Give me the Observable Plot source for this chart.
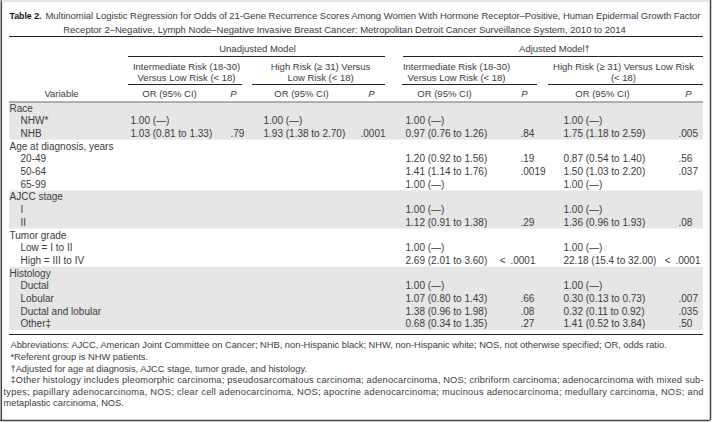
<!DOCTYPE html>
<html>
<head>
<meta charset="utf-8">
<script src="https://cdn.jsdelivr.net/npm/d3@7"></script>
<script src="https://cdn.jsdelivr.net/npm/@observablehq/plot@0.6"></script>
<style>
  html, body { margin: 0; padding: 0; background: #fff; }
  svg { display: block; }
</style>
</head>
<body>
<div id="chart"></div>
<script>
// ---------------- DATA ----------------
const tableLabel = "Table 2.";
const titleLines = [
  "Multinomial Logistic Regression for Odds of 21-Gene Recurrence Scores Among Women With Hormone Receptor–Positive, Human Epidermal Growth Factor",
  "Receptor 2–Negative, Lymph Node–Negative Invasive Breast Cancer: Metropolitan Detroit Cancer Surveillance System, 2010 to 2014"
];
const models = ["Unadjusted Model", "Adjusted Model†"];
const comparisons = [
  ["Intermediate Risk (18-30)", "Versus Low Risk (< 18)"],
  ["High Risk (≥ 31) Versus", "Low Risk (< 18)"],
  ["Intermediate Risk (18-30)", "Versus Low Risk (< 18)"],
  ["High Risk (≥ 31) Versus Low Risk", "(< 18)"]
];
const varHeader = "Variable";
const orHeader = "OR (95% CI)";
const pHeader = "P";

const rowLabels = ["Race", "NHW*", "NHB", "Age at diagnosis, years", "20-49", "50-64", "65-99",
  "AJCC stage", "I", "II", "Tumor grade", "Low = I to II", "High = III to IV",
  "Histology", "Ductal", "Lobular", "Ductal and lobular", "Other‡"];
const rowIsGroup = [1,0,0,1,0,0,0,1,0,0,1,0,0,1,0,0,0,0];
const rowGroupIndex = [0,0,0,1,1,1,1,2,2,2,3,3,3,4,4,4,4,4];

const unadjIntOR = ["", "1.00 (—)", "1.03 (0.81 to 1.33)", "", "", "", "", "", "", "", "", "", "", "", "", "", "", ""];
const unadjIntP  = ["", "", ".79", "", "", "", "", "", "", "", "", "", "", "", "", "", "", ""];
const unadjHighOR = ["", "1.00 (—)", "1.93 (1.38 to 2.70)", "", "", "", "", "", "", "", "", "", "", "", "", "", "", ""];
const unadjHighP  = ["", "", ".0001", "", "", "", "", "", "", "", "", "", "", "", "", "", "", ""];
const adjIntOR = ["", "1.00 (—)", "0.97 (0.76 to 1.26)", "", "1.20 (0.92 to 1.56)", "1.41 (1.14 to 1.76)", "1.00 (—)",
  "", "1.00 (—)", "1.12 (0.91 to 1.38)", "", "1.00 (—)", "2.69 (2.01 to 3.60)",
  "", "1.00 (—)", "1.07 (0.80 to 1.43)", "1.38 (0.96 to 1.98)", "0.68 (0.34 to 1.35)"];
const adjIntP = ["", "", ".84", "", ".19", ".0019", "", "", "", ".29", "", "", "< .0001", "", "", ".66", ".08", ".27"];
const adjHighOR = ["", "1.00 (—)", "1.75 (1.18 to 2.59)", "", "0.87 (0.54 to 1.40)", "1.50 (1.03 to 2.20)", "1.00 (—)",
  "", "1.00 (—)", "1.36 (0.96 to 1.93)", "", "1.00 (—)", "22.18 (15.4 to 32.00)",
  "", "1.00 (—)", "0.30 (0.13 to 0.73)", "0.32 (0.11 to 0.92)", "1.41 (0.52 to 3.84)"];
const adjHighP = ["", "", ".005", "", ".56", ".037", "", "", "", ".08", "", "", "< .0001", "", "", ".007", ".035", ".50"];

const footnotes = [
  "Abbreviations: AJCC, American Joint Committee on Cancer; NHB, non-Hispanic black; NHW, non-Hispanic white; NOS, not otherwise specified; OR, odds ratio.",
  "*Referent group is NHW patients.",
  "†Adjusted for age at diagnosis, AJCC stage, tumor grade, and histology.",
  "‡Other histology includes pleomorphic carcinoma; pseudosarcomatous carcinoma; adenocarcinoma, NOS; cribriform carcinoma; adenocarcinoma with mixed sub-",
  "types; papillary adenocarcinoma, NOS; clear cell adenocarcinoma, NOS; apocrine adenocarcinoma; mucinous adenocarcinoma; medullary carcinoma, NOS; and",
  "metaplastic carcinoma, NOS."
];
const footnoteFirstLine = [1, 1, 1, 1, 0, 0];
const footnoteJustify = [0, 0, 0, 1, 1, 0];

// ---------------- LAYOUT ----------------
const W = 712, H = 422;
const L = {
  left: 9, right: 703,
  titleY: [15, 29], titleLabelX: 9, titleLabelW: 32, title1X: 45, title1End: 700, title2Center: 344,
  titleRuleY: 36,
  modelY: 48, modelCenter: [257, 554], modelRule: [[128, 385], [403, 703]], modelRuleY: 56,
  cmpY: [66, 77], cmpCenter: [186, 320, 456, 623],
  cmpRule: [[128, 242], [252, 385], [402, 537], [548, 703]], cmpRuleY: 84,
  hdrY: 93, varCenter: 61, hdrOR: [169, 301, 444, 602], hdrP: [233, 371, 524, 688],
  bodyTop: 101.5, rowH: 12.7,
  groupX: 9, itemX: 20,
  colOR: [130, 263, 405, 563], colP: [230, 360, 520, 678], ltEnd: [245, 383, 535, 700],
  bottomRuleY: 334,
  footY0: 345, footStep: 11.6, footX1: 10, footX2: 3
};
const bandFill = "#e6e6e6";
const ink = "#3c3c3c";
const ruleInk = "#222";
const font = "'Liberation Sans', Arial, sans-serif";
const fsBody = 10, fsHead = 9.5, fsTitle = 9.5, fsFoot = 9.3;

// ---------------- BUILD ----------------
const rowY = i => L.bodyTop + L.rowH * (i + 0.5);

const bands = [];
rowGroupIndex.forEach((g, i) => {
  if (g % 2 === 0) {
    const last = bands[bands.length - 1];
    if (last && last.g === g) last.y2 = L.bodyTop + L.rowH * (i + 1);
    else bands.push({g, y1: L.bodyTop + L.rowH * i, y2: L.bodyTop + L.rowH * (i + 1)});
  }
});

const labelCells = rowLabels.map((t, i) => ({t, x: rowIsGroup[i] ? L.groupX : L.itemX, y: rowY(i)}));
const orCols = [unadjIntOR, unadjHighOR, adjIntOR, adjHighOR];
const pCols = [unadjIntP, unadjHighP, adjIntP, adjHighP];
const orCells = [], pCellsStart = [], pCellsEnd = [];
orCols.forEach((col, c) => col.forEach((t, i) => { if (t) orCells.push({t, x: L.colOR[c], y: rowY(i)}); }));
pCols.forEach((col, c) => col.forEach((t, i) => {
  if (!t) return;
  // "< .0001" is set with a wider gap after the sign, right-aligned
  if (t.startsWith("<")) pCellsEnd.push({t: t.replace(" ", "\u2002"), x: L.ltEnd[c], y: rowY(i)});
  else pCellsStart.push({t, x: L.colP[c], y: rowY(i)});
}));

const hRules = [
  {x1: L.left, x2: L.right, y: L.titleRuleY, w: 1.2},
  ...L.modelRule.map(([a, b]) => ({x1: a, x2: b, y: L.modelRuleY, w: 1})),
  ...L.cmpRule.map(([a, b]) => ({x1: a, x2: b, y: L.cmpRuleY, w: 1})),
  {x1: L.left, x2: L.right, y: L.bodyTop, w: 0.6},
  {x1: L.left, x2: L.right, y: L.bottomRuleY, w: 1}
];

const modelText = models.map((t, i) => ({t, x: L.modelCenter[i], y: L.modelY}));
const cmpText = comparisons.flatMap((pair, c) => pair.map((t, k) => ({t, x: L.cmpCenter[c], y: L.cmpY[k]})));
const orHdr = L.hdrOR.map(x => ({t: orHeader, x, y: L.hdrY}));
const pHdr = L.hdrP.map(x => ({t: pHeader, x, y: L.hdrY}));
const footText = footnotes.map((t, i) => ({t, x: footnoteFirstLine[i] ? L.footX1 : L.footX2, y: L.footY0 + i * L.footStep, j: footnoteJustify[i]}));

const txt = (data, opts) => Plot.text(data, {x: "x", y: "y", text: "t", fill: ink, fontSize: fsBody, textAnchor: "start", ...opts});

const chart = Plot.plot({
  width: W, height: H, margin: 0,
  style: {fontFamily: font, background: "#fff"},
  x: {domain: [0, W], range: [0, W], axis: null},
  y: {domain: [0, H], range: [0, H], axis: null},
  marks: [
    Plot.rect(bands, {x1: L.left, x2: L.right, y1: "y1", y2: "y2", fill: bandFill}),
    Plot.ruleY(hRules, {y: "y", x1: "x1", x2: "x2", stroke: ruleInk, strokeWidth: "w"}),
    // outer frame
    Plot.ruleX([0.8, W - 2], {y1: 0, y2: H - 2, stroke: "#444", strokeWidth: 1.5}),
    Plot.ruleY([H - 2], {x1: 0, x2: W - 2, stroke: "#444", strokeWidth: 1.5}),
    Plot.ruleY([0.5], {x1: 0, x2: W - 2, stroke: "#ccc", strokeWidth: 1}),
    // title
    txt([{t: tableLabel, x: L.titleLabelX, y: L.titleY[0]}], {fontWeight: "bold", fill: "#111", fontSize: fsTitle}),
    txt([{t: titleLines[0], x: L.title1X, y: L.titleY[0]}], {fontSize: fsTitle}),
    txt([{t: titleLines[1], x: L.title2Center, y: L.titleY[1]}], {fontSize: fsTitle, textAnchor: "middle"}),
    // headers
    txt(modelText, {textAnchor: "middle", fontSize: fsHead}),
    txt(cmpText, {textAnchor: "middle", fontSize: fsHead}),
    txt([{t: varHeader, x: L.varCenter, y: L.hdrY}], {textAnchor: "middle", fontSize: fsHead}),
    txt(orHdr, {textAnchor: "middle", fontSize: fsHead}),
    txt(pHdr, {textAnchor: "middle", fontStyle: "italic", fontSize: fsHead}),
    // body
    txt(labelCells, {}),
    txt(orCells, {}),
    txt(pCellsStart, {}),
    txt(pCellsEnd, {textAnchor: "end"}),
    // footnotes
    txt(footText, {fontSize: fsFoot})
  ]
});

// fit title/label and justify wrapped footnote lines
const fit = new Map(footText.filter(d => d.j).map(d => [d.t, L.right - d.x]));
fit.set(titleLines[0], L.title1End - L.title1X);
fit.set(tableLabel, L.titleLabelW);
chart.querySelectorAll("text").forEach(el => {
  const len = fit.get(el.textContent);
  if (len) { el.setAttribute("textLength", len); el.setAttribute("lengthAdjust", el.textContent === tableLabel ? "spacingAndGlyphs" : "spacing"); }
});
document.getElementById("chart").appendChild(chart);
</script>
</body>
</html>
